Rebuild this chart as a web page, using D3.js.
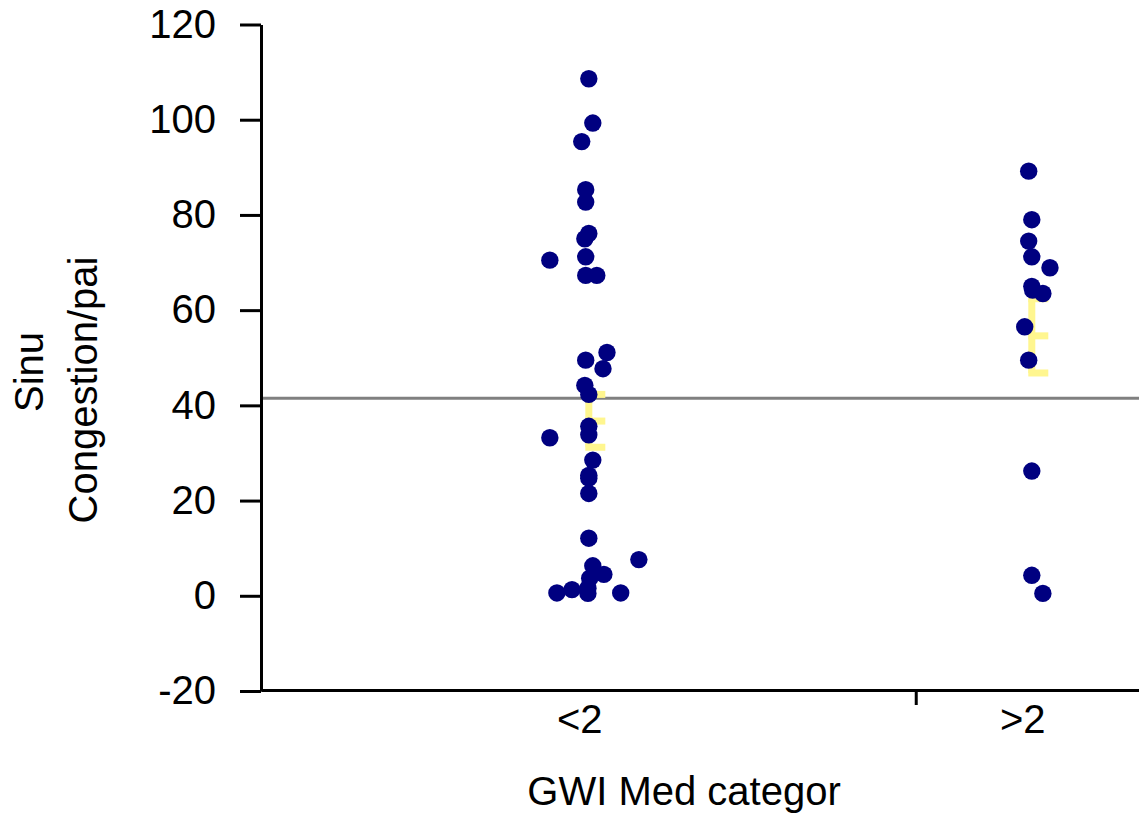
<!DOCTYPE html>
<html>
<head>
<meta charset="utf-8">
<script src="https://cdn.jsdelivr.net/npm/d3@7"></script>
<style>
body{margin:0;background:#fff;}
text{font-family:"Liberation Sans",Arial,sans-serif;font-size:40px;fill:#000;}
.axis path,.axis line{stroke:#000;stroke-width:3;}
</style>
</head>
<body>
<div class="chart_div"></div>
<script>
var categories = ["<2", ">2"];
// values of each point, by category
var lowVals = [108.6,99.3,95.4,85.3,82.7,76.1,75.0,71.2,70.5,67.3,67.3,51.1,49.5,47.7,44.2,42.3,35.6,33.8,33.2,28.5,25.3,24.7,21.5,12.1,7.6,6.3,4.5,3.7,1.6,0.6,1.3,0.5,0.6];
var lowJitter = [0,.009,-.016,-.007,-.007,0,-.009,-.007,-.088,-.007,.018,.041,-.007,.032,-.009,0,0,0,-.088,.009,0,0,0,0,.113,.009,.034,.002,-.002,-.072,-.038,-.002,.072];
var highVals = [89.2,79.0,74.5,71.2,68.9,65.0,64.2,63.5,56.5,49.5,26.2,4.3,0.5];
var highJitter = [-.007,0,-.007,0,.041,0,.002,.025,-.016,-.007,0,0,.025];
// mean and error bar
var means = [36.7, 54.6];
var errLow = [31.2, 46.8];
var errHigh = [42.3, 62.4];
var refLine = 41.5;
var yTicks = [-20,0,20,40,60,80,100,120];

var svg = d3.select(".chart_div").append("svg")
			.attr("width",1139)
			.attr("height",823);

var y = d3.scaleLinear().domain([-20,120]).range([691,24.5]);
var x = d3.scaleLinear().domain([-0.74,1.242]).range([261,1139]);

// reference line
svg.append("line")
	.attr("x1",x(-0.74))
	.attr("x2",x(1.242))
	.attr("y1",y(refLine))
	.attr("y2",y(refLine))
	.attr("stroke","#808080")
	.attr("stroke-width",3);

// error bars
var eb = svg.selectAll(".eb")
			.data(means)
			.enter()
			.append("g")
			.attr("class","eb")
			.attr("fill","#fff68f");

eb.append("rect")
	.attr("x",function(d,i){ return x(i)-3.5; })
	.attr("width",7)
	.attr("y",function(d,i){ return y(errHigh[i]); })
	.attr("height",function(d,i){ return y(errLow[i]) - y(errHigh[i]); });

[errHigh, means, errLow].forEach(function(arr){
	eb.append("rect")
		.attr("x",function(d,i){ return x(i)-3.5; })
		.attr("width",20)
		.attr("y",function(d,i){ return y(arr[i])-3.5; })
		.attr("height",7);
});

// points
var pts = [];
lowVals.forEach(function(v,i){ pts.push({c:0, v:v, j:lowJitter[i]}); });
highVals.forEach(function(v,i){ pts.push({c:1, v:v, j:highJitter[i]}); });

svg.selectAll("circle")
	.data(pts)
	.enter()
	.append("circle")
	.attr("cx",function(d){ return x(d.c + d.j); })
	.attr("cy",function(d){ return y(d.v); })
	.attr("r",8.7)
	.attr("fill","#000080");

// axes
svg.append("g")
	.attr("class","axis")
	.attr("transform","translate(261,0)")
	.call(d3.axisLeft(y).tickValues(yTicks).tickSize(21).tickSizeOuter(0).tickPadding(24)
		.tickFormat(function(d){ return String(d); }))
	.call(function(g){
		g.selectAll("text").style("font-size","40px").style("font-family","'Liberation Sans',Arial,sans-serif").attr("fill","#000");
	});

svg.append("g")
	.attr("class","axis")
	.attr("transform","translate(0,690)")
	.call(d3.axisBottom(x).tickValues([0.738]).tickSize(15).tickSizeOuter(0).tickFormat(""));

svg.selectAll(".cat")
	.data(categories)
	.enter()
	.append("text")
	.attr("class","cat")
	.attr("x",function(d,i){ return x(i)-9; })
	.attr("y",733)
	.attr("text-anchor","middle")
	.text(function(d){ return d; });

svg.append("text")
	.attr("x",684)
	.attr("y",805)
	.attr("text-anchor","middle")
	.text("GWI Med categor");

svg.append("text")
	.attr("transform","translate(43,372) rotate(-90)")
	.attr("text-anchor","middle")
	.text("Sinu");

svg.append("text")
	.attr("transform","translate(97,390) rotate(-90)")
	.attr("text-anchor","middle")
	.text("Congestion/pai");
</script>
</body>
</html>
